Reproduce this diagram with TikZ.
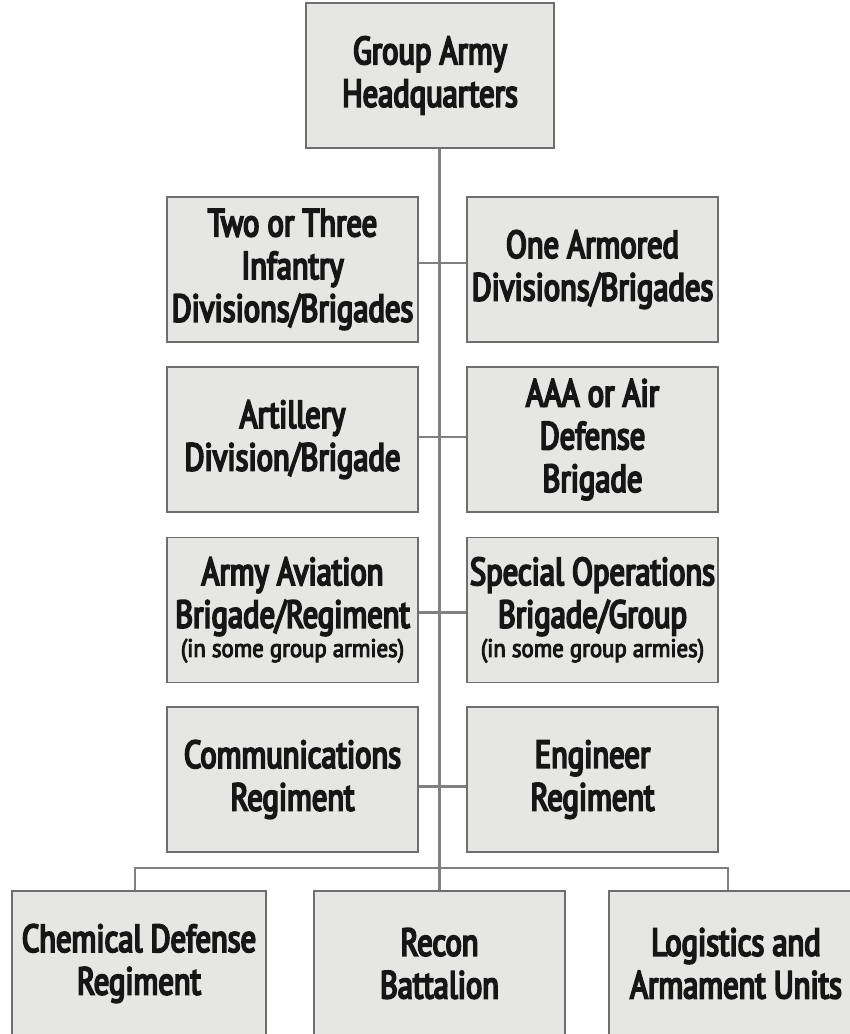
\documentclass[tikz,border=0pt]{standalone}
\usepackage{fontspec}
\setmainfont{PT Sans}[FakeStretch=0.79,FakeBold=5]
\newfontfamily\notefont{PT Sans}[FakeStretch=0.9,FakeBold=4]
\definecolor{boxfill}{RGB}{230,230,228}
\definecolor{boxline}{RGB}{110,110,110}
\definecolor{linecol}{RGB}{128,128,128}
\definecolor{textcol}{RGB}{22,22,22}
\newcommand{\noteline}[1]{{\notefont\fontsize{19}{22}\selectfont #1}}
\begin{document}
\begin{tikzpicture}[x=0.75pt,y=-0.75pt,
  unitbox/.style={draw=boxline, fill=boxfill, line width=1.4pt,
    minimum width=188.25pt, minimum height=108.75pt, inner sep=0pt,
    align=center, text=textcol, font=\fontsize{29}{32}\selectfont},
  link/.style={draw=linecol, line width=2.2pt}]
\fill[white] (0,0) rectangle (849,1034);
\useasboundingbox (0,0) rectangle (849,1034);

\node[unitbox, minimum width=186pt] (hq) at (430,75.5) {Group Army\\Headquarters};

\node[unitbox] (inf) at (292.5,269.5) {Two or Three\\Infantry\\Divisions/Brigades};
\node[unitbox] (arm) at (592.5,269.5) {One Armored\\Divisions/Brigades};

\node[unitbox] (art) at (292.5,439.5) {Artillery\\Division/Brigade};
\node[unitbox] (aaa) at (592.5,439.5) {AAA or Air\\Defense\\Brigade};

\node[unitbox] (avi) at (292.5,610) {Army Aviation\\Brigade/Regiment\\[-10pt]\noteline{(in some group armies)}};
\node[unitbox] (spo) at (592.5,610) {Special Operations\\Brigade/Group\\[-10pt]\noteline{(in some group armies)}};

\node[unitbox] (com) at (292.5,779.5) {Communications\\Regiment};
\node[unitbox] (eng) at (592.5,779.5) {Engineer\\Regiment};

\node[unitbox, minimum width=190.5pt] (chem) at (139,963.5) {Chemical Defense\\Regiment};
\node[unitbox] (rec) at (439.5,963.5) {Recon\\Battalion};
\node[unitbox, minimum width=190.5pt] (log) at (736,963.5) {Logistics and\\Armament Units};

\coordinate (bus) at (439.5,868);

\draw[link] (rec.north |- hq.south) -- (rec.north);
\draw[link] ([yshift=4.9pt]inf.east) -- ([yshift=4.9pt]arm.west);
\draw[link] ([yshift=1.9pt]art.east) -- ([yshift=1.9pt]aaa.west);
\draw[link] ([yshift=-2.2pt]avi.east) -- ([yshift=-2.2pt]spo.west);
\draw[link] ([yshift=-4.9pt]com.east) -- ([yshift=-4.9pt]eng.west);
\draw[link] ([xshift=-3pt]chem.north) |- (bus) -| ([xshift=-6pt]log.north);
\end{tikzpicture}
\end{document}
